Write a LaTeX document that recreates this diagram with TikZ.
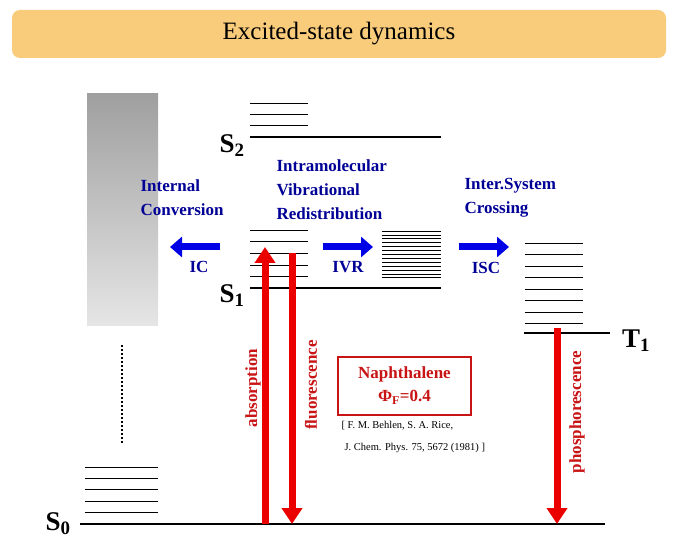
\documentclass[tikz,border=0pt]{standalone}
\usepackage{fontspec}
\setmainfont{Liberation Serif}[BoldFont={Liberation Serif Bold}]
\usetikzlibrary{arrows.meta}
\definecolor{titlebg}{RGB}{249,204,124}
\definecolor{darkblue}{RGB}{0,0,150}
\definecolor{arrblue}{RGB}{0,0,230}
\definecolor{arrred}{RGB}{235,0,0}
\definecolor{txtred}{RGB}{200,20,20}
\tikzset{
  level/.style={line width=2.5pt},
  sublevel/.style={line width=0.7pt},
  blue arrow/.style={arrblue,line width=7pt,-{Triangle[length=12pt,width=20pt]}},
  red arrow/.style={arrred,line width=7pt,-{Triangle[length=16pt,width=20pt]}},
  proc/.style={darkblue,font=\fontsize{17}{24}\selectfont\bfseries,align=left},
  state/.style={font=\fontsize{27}{27}\selectfont\bfseries},
  vlab/.style={txtred,rotate=90,font=\fontsize{17}{18}\selectfont\bfseries}
}
\newcommand{\sub}[1]{\textsubscript{\bfseries #1}}
\begin{document}
\begin{tikzpicture}[x=1pt,y=-1pt]
\useasboundingbox (0,0) rectangle (680,553);

% title
\node[fill=titlebg,rounded corners=8pt,minimum width=654pt,minimum height=48pt,
  font=\fontsize{25}{25}\selectfont] (title) at (339,34) {Excited-state dynamics};

% continuum of S0 high levels
\shade[top color=gray!75,bottom color=gray!20] (87,94) rectangle (158,326);
\draw[line width=2pt,dotted] (122,345) -- (122,443);

% S2
\draw[level] (250,137) -- (441,137);
\foreach \y in {103,114,125} \draw[sublevel] (250,\y) -- (308,\y);
\node[state] (s2) at (232,146) {S\sub{2}};

% S1
\draw[level] (250,288) -- (441,288);
\foreach \y in {230,241.5,253,265,276.5} \draw[sublevel] (250,\y) -- (308,\y);
\foreach \i in {0,...,12} \draw[sublevel] (382,231+3.9*\i) -- (441,231+3.9*\i);
\node[state] (s1) at (232,296) {S\sub{1}};

% T1
\draw[level] (524,333) -- (610,333);
\foreach \i in {0,...,7} \draw[sublevel] (525,243+11.5*\i) -- (583,243+11.5*\i);
\node[state] (t1) at (636,341) {T\sub{1}};

% S0
\draw[level] (80,524) -- (228,524);
\draw[line width=1.5pt] (228,524) -- (380,524);
\draw[level] (380,524) -- (605,524);
\foreach \y in {467,478,489.5,501,512} \draw[sublevel] (85,\y) -- (158,\y);
\node[state] (s0) at (58,524) {S\sub{0}};

% nonradiative processes
\coordinate (ic1) at (220,247); \coordinate (ic2) at (170,247);
\coordinate (ivr1) at (323,247); \coordinate (ivr2) at (373,247);
\coordinate (isc1) at (459,247); \coordinate (isc2) at (509,247);
\draw[blue arrow] (ic1) -- (ic2);
\draw[blue arrow] (ivr1) -- (ivr2);
\draw[blue arrow] (isc1) -- (isc2);
\node[proc] (iclab) at (199,267) {IC};
\node[proc] (ivrlab) at (348,267) {IVR};
\node[proc] (isclab) at (486,268) {ISC};
\node[proc,anchor=west] (ictext) at (137,198) {Internal\\Conversion};
\node[proc,anchor=west] (ivrtext) at (273,190) {Intramolecular\\Vibrational\\Redistribution};
\node[proc,anchor=west] (isctext) at (461,198) {Inter.System\\Crossing};

% radiative processes
\coordinate (abs0) at (265,524); \coordinate (abs1) at (265,247);
\coordinate (fl0) at (292,253); \coordinate (fl1) at (292,524);
\coordinate (ph0) at (557,328); \coordinate (ph1) at (557,524);
\draw[red arrow] (abs0) -- (abs1);
\draw[red arrow] (fl0) -- (fl1);
\draw[red arrow] (ph0) -- (ph1);
\node[vlab] (abslab) at (253,388) {absorption};
\node[vlab] (fllab) at (311,385) {fluorescence};
\node[vlab] (phlab) at (577,412) {phosphorescence};

% naphthalene
\node[draw=arrred,line width=2pt,txtred,align=center,minimum width=133pt,minimum height=58pt,
  font=\fontsize{17}{23}\selectfont\bfseries] (naph) at (404.5,385.5) {Naphthalene\\Φ\sub{F}=0.4};
\node[font=\fontsize{10.5}{22}\selectfont,align=left,anchor=north west] (ref) at (338,418)
  {[ F. M. Behlen, S. A. Rice,\\\hspace*{3pt}J. Chem. Phys. 75, 5672 (1981) ]};
\end{tikzpicture}
\end{document}
